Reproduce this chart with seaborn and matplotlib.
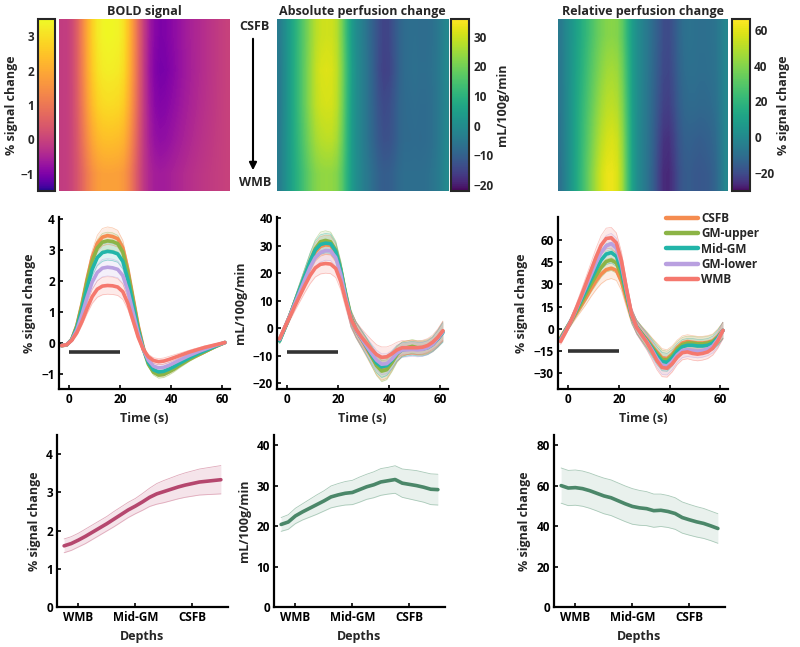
import numpy as np
import matplotlib
matplotlib.use("Agg")
import matplotlib.pyplot as plt
from matplotlib.patches import FancyArrowPatch
from matplotlib.lines import Line2D
from matplotlib.colors import ListedColormap
import seaborn as sns

sns.set_theme(style="ticks")
plt.rcParams["font.family"] = ["Open Sans", "DejaVu Sans"]
plt.rcParams["font.weight"] = "bold"
plt.rcParams["axes.labelweight"] = "bold"
plt.rcParams["axes.titleweight"] = "bold"

layers = ["CSFB", "GM-upper", "Mid-GM", "GM-lower", "WMB"]
layer_colors = ["#f58c50", "#8cb446", "#22b5a9", "#b9a0e0", "#f5786e"]

time_s = np.arange(-3, 62, 2)

# BOLD time courses (% signal change)
bold_csfb = [-0.10, -0.08, 0.10, 0.55, 1.25, 2.05, 2.75, 3.20, 3.40, 3.45, 3.42, 3.35, 3.05, 2.35, 1.45, 0.55,
             -0.15, -0.65, -0.90, -1.00, -0.98, -0.90, -0.82, -0.72, -0.62, -0.53, -0.45, -0.38, -0.30, -0.22, -0.14, -0.07, 0.00]
bold_gmu = [-0.10, -0.08, 0.10, 0.53, 1.20, 1.97, 2.63, 3.05, 3.24, 3.28, 3.26, 3.19, 2.92, 2.25, 1.38, 0.50,
            -0.20, -0.70, -0.96, -1.05, -1.03, -0.95, -0.86, -0.75, -0.65, -0.55, -0.46, -0.38, -0.30, -0.22, -0.14, -0.07, 0.00]
bold_mid = [-0.10, -0.07, 0.09, 0.48, 1.08, 1.77, 2.36, 2.74, 2.90, 2.94, 2.92, 2.86, 2.62, 2.02, 1.22, 0.42,
            -0.20, -0.64, -0.88, -0.95, -0.93, -0.86, -0.78, -0.68, -0.59, -0.50, -0.42, -0.34, -0.27, -0.20, -0.13, -0.06, 0.00]
bold_gml = [-0.10, -0.07, 0.08, 0.40, 0.90, 1.46, 1.95, 2.26, 2.40, 2.43, 2.41, 2.36, 2.16, 1.66, 0.98, 0.30,
            -0.22, -0.57, -0.76, -0.82, -0.80, -0.74, -0.66, -0.58, -0.50, -0.42, -0.35, -0.28, -0.22, -0.16, -0.10, -0.05, 0.00]
bold_wmb = [-0.10, -0.07, 0.07, 0.32, 0.68, 1.10, 1.48, 1.72, 1.82, 1.84, 1.83, 1.79, 1.64, 1.26, 0.72, 0.18,
            -0.22, -0.46, -0.58, -0.62, -0.60, -0.55, -0.49, -0.43, -0.37, -0.31, -0.26, -0.21, -0.16, -0.12, -0.08, -0.04, 0.00]
bold_se = [0.03, 0.03, 0.04, 0.08, 0.12, 0.17, 0.22, 0.26, 0.28, 0.28, 0.28, 0.27, 0.25, 0.20, 0.15, 0.10,
           0.08, 0.08, 0.09, 0.10, 0.10, 0.10, 0.09, 0.08, 0.07, 0.06, 0.06, 0.05, 0.05, 0.04, 0.04, 0.03, 0.03]

# absolute perfusion time courses (mL/100g/min)
abs_csfb = [-4.0, 0.2, 4.6, 9.4, 14.2, 19.0, 23.8, 27.8, 29.8, 30.4, 30.2, 27.5, 20.5, 11.2, 3.2, -0.8,
            -3.8, -7.0, -10.2, -13.2, -15.0, -14.5, -12.0, -9.2, -7.5, -7.0, -6.8, -7.2, -7.2, -6.8, -5.8, -3.8, -1.2]
abs_gmu = [-4.5, 0.0, 4.5, 9.5, 14.5, 19.5, 24.5, 29.0, 31.5, 32.0, 31.5, 28.5, 21.5, 12.0, 4.0, -0.5,
           -3.5, -6.5, -10.0, -13.5, -15.5, -15.0, -12.5, -9.5, -7.5, -7.0, -6.5, -7.0, -7.0, -6.5, -5.5, -3.5, -1.0]
abs_mid = [-4.5, 0.0, 4.5, 9.5, 14.5, 19.5, 24.5, 28.5, 30.5, 31.0, 30.8, 28.0, 21.0, 11.5, 3.5, -0.5,
           -3.5, -6.5, -9.5, -12.5, -14.0, -13.5, -11.5, -9.0, -7.8, -7.5, -7.2, -7.5, -7.5, -7.0, -5.8, -3.8, -1.5]
abs_gml = [-4.0, 0.3, 4.5, 9.0, 13.5, 18.0, 22.3, 25.8, 27.6, 28.3, 28.2, 25.8, 19.5, 10.8, 3.2, -0.6,
           -3.5, -6.3, -9.0, -11.5, -13.0, -12.8, -11.2, -9.0, -7.8, -7.8, -7.6, -7.8, -7.6, -7.0, -5.8, -3.6, -1.2]
abs_wmb = [-3.8, 0.3, 4.2, 8.2, 12.0, 15.8, 19.3, 22.0, 23.3, 23.6, 23.4, 21.8, 17.0, 9.8, 3.3, -0.3,
           -3.0, -5.3, -7.5, -9.5, -10.5, -10.3, -9.2, -7.8, -7.0, -7.0, -7.0, -7.0, -6.8, -6.2, -5.0, -3.2, -0.8]
abs_se = [1.0, 1.2, 1.4, 1.8, 2.2, 2.6, 3.0, 3.3, 3.5, 3.5, 3.5, 3.3, 3.0, 2.8, 2.8, 2.8,
          3.0, 3.2, 3.4, 3.6, 3.8, 3.6, 3.2, 2.8, 2.6, 2.5, 2.5, 2.5, 2.5, 2.5, 2.6, 3.0, 3.5]

# relative perfusion time courses (% signal change)
rel_csfb = [-6.0, -0.5, 4.5, 10.0, 15.5, 21.0, 27.0, 32.5, 37.0, 40.0, 41.0, 39.5, 32.0, 19.5, 8.0, 1.5,
            -3.0, -7.0, -11.5, -15.5, -19.5, -20.0, -17.0, -12.5, -9.5, -8.5, -9.0, -9.5, -9.5, -9.0, -8.0, -5.0, -1.0]
rel_gmu = [-6.5, -0.8, 4.8, 11.0, 17.0, 23.5, 30.0, 36.0, 41.5, 45.5, 46.5, 44.5, 36.0, 22.0, 8.5, 1.5,
           -3.0, -7.5, -12.0, -16.5, -20.5, -21.0, -18.0, -13.5, -10.5, -9.5, -9.5, -10.0, -10.0, -9.5, -8.5, -5.5, -1.0]
rel_mid = [-7.0, -1.0, 5.0, 12.0, 19.0, 26.0, 33.0, 40.0, 46.5, 50.5, 51.5, 49.0, 39.5, 24.0, 9.0, 1.5,
           -3.5, -8.0, -13.0, -18.0, -22.0, -22.5, -19.5, -15.0, -12.0, -11.0, -11.0, -11.5, -11.5, -11.0, -9.5, -6.0, -1.0]
rel_gml = [-7.5, -1.5, 5.0, 12.5, 20.5, 28.5, 36.5, 44.5, 51.5, 56.0, 57.5, 54.5, 43.5, 26.0, 9.5, 1.0,
           -4.0, -8.5, -14.0, -20.0, -24.5, -25.0, -22.0, -17.5, -14.5, -14.0, -14.5, -15.0, -14.5, -13.5, -11.5, -7.0, -1.0]
rel_wmb = [-8.5, -2.0, 5.0, 13.0, 21.5, 30.5, 39.5, 48.5, 56.5, 61.0, 61.5, 58.0, 46.0, 27.0, 10.0, 1.0,
           -4.0, -9.0, -15.0, -21.5, -26.0, -26.5, -23.5, -19.0, -16.0, -15.5, -16.5, -17.0, -16.5, -15.5, -13.0, -8.0, -1.0]
rel_se = [2.0, 2.2, 2.5, 3.0, 3.8, 4.5, 5.2, 6.0, 6.5, 7.0, 7.0, 6.8, 6.0, 5.0, 4.5, 4.5,
          4.8, 5.2, 5.6, 6.0, 6.2, 6.0, 5.5, 5.0, 4.8, 4.6, 4.5, 4.5, 4.5, 4.5, 4.6, 5.0, 5.5]

# peak response per cortical depth (WMB -> CSFB)
depths = np.arange(1, 24)
depth_ticks = [3, 11, 19]
depth_labels = ["WMB", "Mid-GM", "CSFB"]
bold_depth = [1.60, 1.66, 1.75, 1.85, 1.96, 2.07, 2.18, 2.30, 2.42, 2.54, 2.64, 2.75, 2.87, 2.96, 3.02, 3.08,
              3.14, 3.19, 3.23, 3.27, 3.29, 3.31, 3.33]
bold_depth_se = [0.18, 0.18, 0.18, 0.19, 0.19, 0.19, 0.19, 0.20, 0.20, 0.20, 0.20, 0.22, 0.24, 0.27, 0.29, 0.30,
                 0.31, 0.32, 0.33, 0.34, 0.35, 0.36, 0.37]
abs_depth = [20.4, 21.0, 22.5, 23.5, 24.4, 25.3, 26.2, 27.2, 27.7, 28.1, 28.3, 29.0, 29.7, 30.2, 30.9, 31.2,
             31.5, 30.6, 30.3, 30.0, 29.6, 29.1, 29.0]
abs_depth_se = [1.7, 1.8, 1.9, 2.0, 2.2, 2.4, 2.5, 2.7, 2.8, 2.9, 3.0, 3.1, 3.1, 3.2, 3.3, 3.3,
                3.4, 3.5, 3.6, 3.7, 3.7, 3.8, 3.8]
rel_depth = [60.0, 58.8, 59.0, 58.5, 57.5, 56.2, 54.9, 54.0, 52.5, 51.0, 49.7, 49.0, 48.6, 47.6, 47.8, 47.2,
             46.2, 44.2, 43.1, 42.1, 41.3, 40.1, 38.8]
rel_depth_se = [8.7, 8.7, 8.7, 8.7, 8.7, 8.7, 8.8, 8.8, 8.8, 8.8, 8.8, 8.6, 8.4, 8.2, 8.0, 7.9,
                7.8, 7.7, 7.6, 7.5, 7.4, 7.3, 7.3]

bold_tc = [bold_csfb, bold_gmu, bold_mid, bold_gml, bold_wmb]
abs_tc = [abs_csfb, abs_gmu, abs_mid, abs_gml, abs_wmb]
rel_tc = [rel_csfb, rel_gmu, rel_mid, rel_gml, rel_wmb]

W, H = 800, 647
fig = plt.figure(figsize=(W / 100, H / 100), dpi=100)

TICK_FS = 8.5
LABEL_FS = 9


def warped(name, gamma):
    # colour scale stretched toward the top, like the original maps
    return ListedColormap(plt.get_cmap(name)(np.linspace(0, 1, 256) ** gamma))


def px_axes(x0, y0, x1, y1):
    return fig.add_axes([x0 / W, 1 - y1 / H, (x1 - x0) / W, (y1 - y0) / H])


def style(ax):
    sns.despine(ax=ax)
    for s in ["left", "bottom"]:
        ax.spines[s].set_linewidth(1.6)
        ax.spines[s].set_color("black")
    ax.tick_params(direction="in", length=3, width=1.2, labelsize=TICK_FS, colors="black", pad=3)
    ax.set_facecolor("white")


def heat(ax, cax, rows, cmap, vmin, vmax, ticks, label, title, left=False):
    mat = np.array(rows)
    im = ax.imshow(mat, aspect="auto", cmap=cmap, vmin=vmin, vmax=vmax,
                   extent=[time_s[0], time_s[-1], 0, len(rows)], interpolation="bilinear")
    ax.set_axis_off()
    ax.set_title(title, fontsize=LABEL_FS, pad=3)
    cb = fig.colorbar(im, cax=cax)
    cb.set_ticks(ticks)
    cb.outline.set_linewidth(1.5)
    cax.tick_params(direction="in", length=3, width=1.2, labelsize=TICK_FS, pad=3)
    if left:
        cax.yaxis.set_ticks_position("left")
        cax.yaxis.set_label_position("left")
    cb.set_label(label, fontsize=LABEL_FS, fontweight="bold", labelpad=2)


def tc_panel(ax, series, se, ylim, yticks, ylabel, bar_y):
    se = np.array(se)
    for vals, col in zip(series, layer_colors):
        m = np.array(vals)
        ax.fill_between(time_s, m - se, m + se, color=col, alpha=0.15, lw=0)
        ax.plot(time_s, m - se, color=col, lw=0.5, alpha=0.45)
        ax.plot(time_s, m + se, color=col, lw=0.5, alpha=0.45)
    for vals, col in zip(series, layer_colors):
        sns.lineplot(x=time_s, y=vals, color=col, linewidth=2.6, ax=ax)
    ax.plot([0, 20], [bar_y, bar_y], color="#333333", lw=2.6, solid_capstyle="butt")
    ax.set_xlim(-4, 63)
    ax.set_ylim(*ylim)
    ax.set_xticks([0, 20, 40, 60])
    ax.set_yticks(yticks)
    ax.set_xlabel("Time (s)", fontsize=LABEL_FS)
    ax.set_ylabel(ylabel, fontsize=LABEL_FS)
    style(ax)


def depth_panel(ax, vals, se, color, fill, edge, ylim, yticks, ylabel):
    m = np.array(vals)
    s = np.array(se)
    ax.fill_between(depths, m - s, m + s, color=fill, lw=0)
    ax.plot(depths, m - s, color=edge, lw=0.6)
    ax.plot(depths, m + s, color=edge, lw=0.6)
    sns.lineplot(x=depths, y=vals, color=color, linewidth=2.6, ax=ax)
    ax.set_xlim(0, 24)
    ax.set_ylim(*ylim)
    ax.set_xticks(depth_ticks)
    ax.set_xticklabels(depth_labels)
    ax.set_yticks(yticks)
    ax.set_xlabel("Depths", fontsize=LABEL_FS)
    ax.set_ylabel(ylabel, fontsize=LABEL_FS)
    style(ax)


# top row: depth x time maps
hm1 = px_axes(59, 19, 230, 191)
cb1 = px_axes(38, 19, 55, 191)
heat(hm1, cb1, bold_tc, warped("plasma", 0.6), -1.5, 3.5, [-1, 0, 1, 2, 3], "% signal change", "BOLD signal", left=True)

hm2 = px_axes(277, 19, 448, 191)
cb2 = px_axes(451, 19, 469, 191)
heat(hm2, cb2, abs_tc, warped("viridis", 0.75), -22, 36, [-20, -10, 0, 10, 20, 30], "mL/100g/min", "Absolute perfusion change")

hm3 = px_axes(558, 19, 728, 191)
cb3 = px_axes(732, 19, 750, 191)
heat(hm3, cb3, rel_tc, warped("viridis", 0.65), -30, 66, [-20, 0, 20, 40, 60], "% signal change", "Relative perfusion change")

fig.text(254 / W, 1 - 27 / H, "CSFB", ha="center", va="center", fontsize=LABEL_FS, fontweight="bold")
fig.text(255 / W, 1 - 182 / H, "WMB", ha="center", va="center", fontsize=LABEL_FS, fontweight="bold")
fig.add_artist(FancyArrowPatch((253 / W, 1 - 36 / H), (253 / W, 1 - 173 / H), transform=fig.transFigure,
                               arrowstyle="-|>", mutation_scale=11, lw=1.5, color="black"))

# middle row: time courses per layer
ax1 = px_axes(59, 217, 230, 389)
tc_panel(ax1, bold_tc, bold_se, (-1.5, 4.05), [-1, 0, 1, 2, 3, 4], "% signal change", -0.3)
ax2 = px_axes(277, 217, 448, 389)
tc_panel(ax2, abs_tc, abs_se, (-22, 40.5), [-20, -10, 0, 10, 20, 30, 40], "mL/100g/min", -8.5)
ax3 = px_axes(558, 217, 728, 389)
tc_panel(ax3, rel_tc, rel_se, (-40.5, 75.5), [-30, -15, 0, 15, 30, 45, 60], "% signal change", -15)

handles = [Line2D([], [], color=c, lw=3.2) for c in layer_colors]
ax3.legend(handles, layers, loc="upper left", bbox_to_anchor=(0.635, 1.03), frameon=False,
           fontsize=8.5, handlelength=2.7, handletextpad=0.3, labelspacing=0.2, borderpad=0, borderaxespad=0)

# bottom row: peak response across depths
bx1 = px_axes(57, 435, 228, 607)
depth_panel(bx1, bold_depth, bold_depth_se, "#b5476e", "#f5e4ea", "#e0aabb", (0, 4.5), [0, 1, 2, 3, 4], "% signal change")
bx2 = px_axes(274, 435, 445, 607)
depth_panel(bx2, abs_depth, abs_depth_se, "#4b8769", "#e9f1ed", "#a9c9b8", (0, 42.5), [0, 10, 20, 30, 40], "mL/100g/min")
bx3 = px_axes(554, 435, 725, 607)
depth_panel(bx3, rel_depth, rel_depth_se, "#4b8769", "#e9f1ed", "#a9c9b8", (0, 85), [0, 20, 40, 60, 80], "% signal change")

fig.savefig("out.png", dpi=100, facecolor="white")
